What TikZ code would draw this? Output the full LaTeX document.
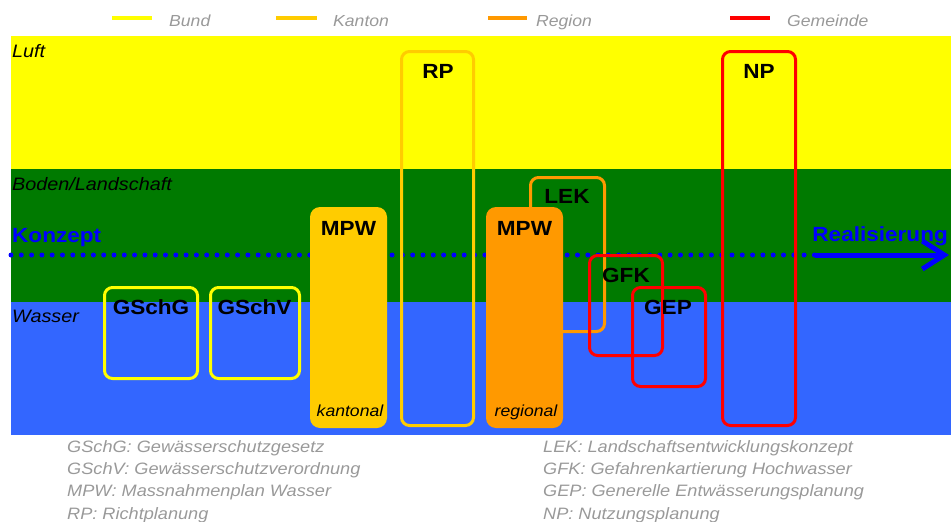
\documentclass[tikz,border=0pt]{standalone}
\usepackage{fontspec}
\setmainfont{Liberation Sans}[FakeStretch=1.1]
\usetikzlibrary{arrows.meta}
\definecolor{bund}{RGB}{255,255,0}
\definecolor{kanton}{RGB}{255,204,0}
\definecolor{region}{RGB}{255,153,0}
\definecolor{gemeinde}{RGB}{255,0,0}
\definecolor{luft}{RGB}{255,255,0}
\definecolor{boden}{RGB}{0,122,0}
\definecolor{wasser}{RGB}{51,102,255}
\definecolor{pfeil}{RGB}{0,0,255}
\definecolor{grau}{RGB}{153,153,153}
\tikzset{	x=1pt, y=-1pt,
	planbox/.style={
		rounded corners=8pt,
		line width=3pt,
		inner sep=0pt},
	bundbox/.style={planbox, draw=bund},
	kantonbox/.style={planbox, draw=kanton},
	regionbox/.style={planbox, draw=region},
	gemeindebox/.style={planbox, draw=gemeinde},
	kuerzel/.style={font=\bfseries\fontsize{20.5}{24}\selectfont, inner sep=0pt},
	ebene/.style={font=\itshape\fontsize{18}{21}\selectfont, anchor=base west, inner sep=0pt},
	stufe/.style={font=\itshape\fontsize{16}{19}\selectfont, inner sep=0pt},
	legende/.style={font=\itshape\fontsize{16}{19}\selectfont, text=grau, anchor=base west, inner sep=0pt},
	fuss/.style={font=\itshape\fontsize{16.5}{19}\selectfont, text=grau, anchor=base west, inner sep=0pt}
}
\begin{document}
\begin{tikzpicture}
				\useasboundingbox (0,0) rectangle (951,522);
				% Ebenen
				\fill[luft] (11,36) rectangle (951,169);
				\fill[boden] (11,169) rectangle (951,302);
				\fill[wasser] (11,302) rectangle (951,435);
				\node[ebene] (luft) at (12,57) {Luft};
				\node[ebene] (boden) at (12,190) {Boden/Landschaft};
				\node[ebene] (wasser) at (12,322) {Wasser};
				% Legende
				\draw[bund, line width=4pt] (112,18) -- (152,18);
				\draw[kanton, line width=4pt] (276,18) -- (317,18);
				\draw[region, line width=4pt] (488,18) -- (527,18);
				\draw[gemeinde, line width=4pt] (730,18) -- (770,18);
				\node[legende] (lbund) at (169,26) {Bund};
				\node[legende] (lkanton) at (333,26) {Kanton};
				\node[legende] (lregion) at (536,26) {Region};
				\node[legende] (lgemeinde) at (787,26) {Gemeinde};
				% Achse
				\node[kuerzel, text=pfeil, anchor=base west] (konzept) at (12,242) {Konzept};
				\node[kuerzel, text=pfeil, anchor=base east] (real) at (948,241) {Realisierung};
				\coordinate (start) at (11,255);
				\coordinate (mitte) at (815,255);
				\coordinate (ende) at (949,255);
				\draw[pfeil, line width=5pt, line cap=round, dash pattern=on 0pt off 10.3pt] (start) -- (mitte);
				\draw[pfeil, line width=5pt, -{Straight Barb[length=22pt, width=28pt]}] (mitte) -- (ende);
				% Planungen
				\node[bundbox, minimum width=93pt, minimum height=91pt] (gschg) at (151,333) {};
				\node[bundbox, minimum width=89pt, minimum height=91pt] (gschv) at (255,333) {};
				\node[planbox, fill=kanton, rounded corners=10pt, minimum width=77pt, minimum height=221pt] (mpwk) at (348.5,317.5) {};
				\node[kantonbox, minimum width=72pt, minimum height=374pt] (rp) at (437.5,238.5) {};
				\node[regionbox, minimum width=74pt, minimum height=154pt] (lek) at (567.5,254.5) {};
				\node[planbox, fill=region, rounded corners=10pt, minimum width=77pt, minimum height=221pt] (mpwr) at (524.5,317.5) {};
				\node[gemeindebox, minimum width=73pt, minimum height=100pt] (gfk) at (626,305.5) {};
				\node[gemeindebox, minimum width=73pt, minimum height=99pt] (gep) at (669,337) {};
				\node[gemeindebox, minimum width=73pt, minimum height=374pt] (np) at (759,238.5) {};
				% Kuerzel
				\node[kuerzel] (tgschg) at (151,307.5) {GSchG};
				\node[kuerzel] (tgschv) at (254.5,307.5) {GSchV};
				\node[kuerzel] (tmpwk) at (348.5,228) {MPW};
				\node[kuerzel] (trp) at (438,71) {RP};
				\node[kuerzel] (tlek) at (567,196) {LEK};
				\node[kuerzel] (tmpwr) at (524.5,228) {MPW};
				\node[kuerzel] (tgfk) at (626,275) {GFK};
				\node[kuerzel] (tgep) at (668,307) {GEP};
				\node[kuerzel] (tnp) at (759,71) {NP};
				\node[stufe, anchor=base] (kantonal) at (350,416) {kantonal};
				\node[stufe, anchor=base] (regional) at (526,416) {regional};
				% Abkuerzungen
				\node[fuss] (f1) at (67,452.5) {GSchG: Gewässerschutzgesetz};
				\node[fuss] (f2) at (67,474.7) {GSchV: Gewässerschutzverordnung};
				\node[fuss] (f3) at (67,496.9) {MPW: Massnahmenplan Wasser};
				\node[fuss] (f4) at (67,519.1) {RP: Richtplanung};
				\node[fuss] (f5) at (543,452.5) {LEK: Landschaftsentwicklungskonzept};
				\node[fuss] (f6) at (543,474.7) {GFK: Gefahrenkartierung Hochwasser};
				\node[fuss] (f7) at (543,496.9) {GEP: Generelle Entwässerungsplanung};
				\node[fuss] (f8) at (543,519.1) {NP: Nutzungsplanung};
			\end{tikzpicture}
\end{document}
